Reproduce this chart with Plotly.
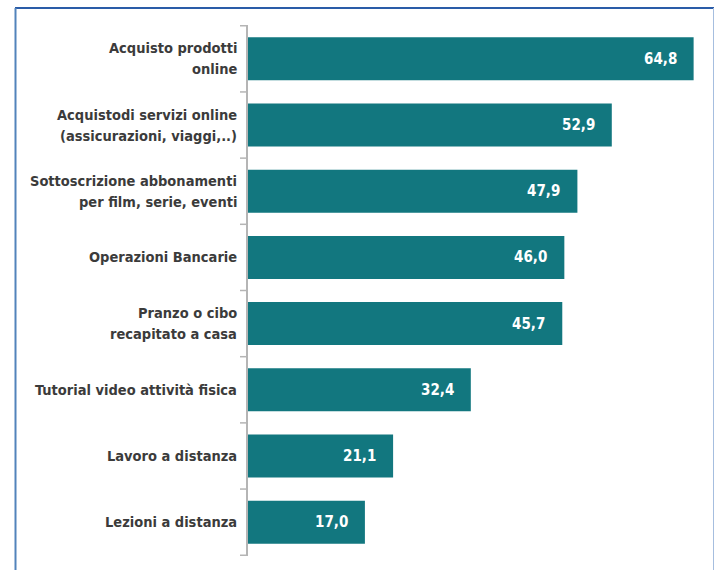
import plotly.graph_objects as go

# Survey categories (top to bottom) and percentages
categories = [
    "Acquisto prodotti<br>online",
    "Acquistodi servizi online<br>(assicurazioni, viaggi,..)",
    "Sottoscrizione abbonamenti<br>per film, serie, eventi",
    "Operazioni Bancarie",
    "Pranzo o cibo<br>recapitato a casa",
    "Tutorial video attività fisica",
    "Lavoro a distanza",
    "Lezioni a distanza",
]
values = [64.8, 52.9, 47.9, 46.0, 45.7, 32.4, 21.1, 17.0]

W, H = 715, 570
ML, MR, MT, MB = 248, 20, 25, 14
BAR_COLOR = "#12777f"
LABEL_COLOR = "#3b3b3b"
FONT = "DejaVu Sans Condensed, Liberation Sans Narrow, sans-serif"
LINE_GAP = 21  # spacing between lines of a two-line label, px

fig = go.Figure(
    go.Bar(
        x=values,
        y=categories,
        orientation="h",
        marker=dict(color=BAR_COLOR, line=dict(width=0)),
        width=0.65,
        hoverinfo="skip",
    )
)

# Value labels inside the bar end
for v, c in zip(values, categories):
    fig.add_annotation(
        x=v, y=c, xref="x", yref="y",
        text=f"<b>{v:.1f}</b>".replace(".", ","),
        showarrow=False, xanchor="right", xshift=-15,
        font=dict(family=FONT, size=15, color="white"),
    )

# Category labels, one annotation per line so the line spacing can be set
for c in categories:
    lines = c.split("<br>")
    k = len(lines)
    for j, line in enumerate(lines):
        fig.add_annotation(
            x=0, y=c, xref="paper", yref="y",
            text=f"<b>{line}</b>",
            showarrow=False, xanchor="right", xshift=-9,
            yshift=((k - 1) / 2 - j) * LINE_GAP,
            font=dict(family=FONT, size=14.5, color=LABEL_COLOR),
        )

# Frame around the chart (converted from pixel positions to paper coords)
pw = W - ML - MR
ph = H - MT - MB
def px_x(p):
    return (p - ML) / pw
def px_y(p):
    return 1 - (p - MT) / ph

fig.add_shape(type="line", xref="paper", yref="paper",
              x0=px_x(15), x1=px_x(714), y0=px_y(8), y1=px_y(8),
              line=dict(color="#2a5ca8", width=2))
fig.add_shape(type="line", xref="paper", yref="paper",
              x0=px_x(15.5), x1=px_x(15.5), y0=px_y(8), y1=px_y(H + 5),
              line=dict(color="#5283bb", width=2))
fig.add_shape(type="line", xref="paper", yref="paper",
              x0=px_x(713.5), x1=px_x(713.5), y0=px_y(8), y1=px_y(H + 5),
              line=dict(color="#a6bedf", width=1))

fig.update_layout(
    width=W, height=H,
    margin=dict(l=ML, r=MR, t=MT, b=MB, autoexpand=False),
    plot_bgcolor="white", paper_bgcolor="white",
    showlegend=False,
    font=dict(family=FONT, size=14, color=LABEL_COLOR),
    xaxis=dict(range=[0, 65], visible=False, fixedrange=True, automargin=False),
    yaxis=dict(
        autorange="reversed",
        showline=True, linecolor="#b5b5b5", linewidth=2,
        ticks="", showgrid=False, zeroline=False,
        showticklabels=False,
        automargin=False,
        fixedrange=True,
    ),
)

# Tick marks at category boundaries
n = len(categories)
for i in range(n + 1):
    yb = i - 0.5
    fig.add_shape(type="line", xref="paper", yref="y",
                  x0=px_x(240), x1=0, y0=yb, y1=yb,
                  line=dict(color="#b5b5b5", width=1.5))

fig.write_html("out.html")
